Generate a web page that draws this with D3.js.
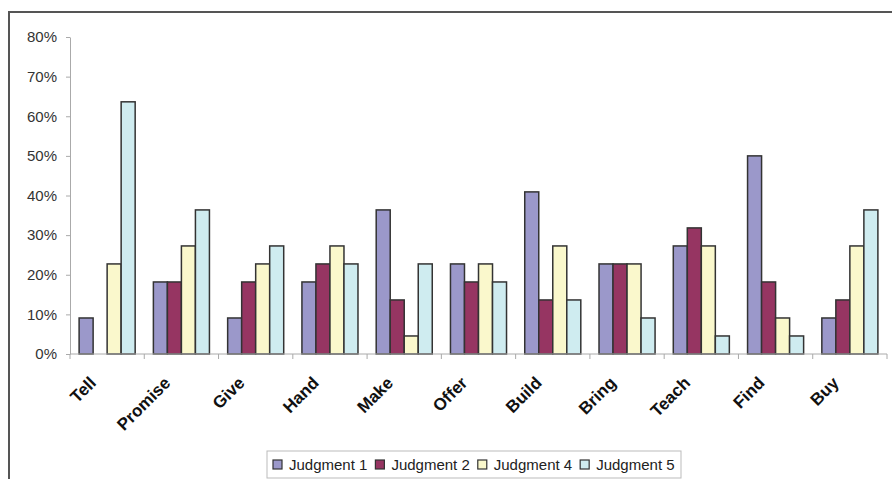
<!DOCTYPE html>
<html>
<head>
<meta charset="utf-8">
<script src="https://cdn.jsdelivr.net/npm/d3@7/dist/d3.min.js"></script>
<style>
  html, body { margin: 0; padding: 0; background: #fff; }
  svg { display: block; font-family: "Liberation Sans", Arial, sans-serif; }
</style>
</head>
<body>
<svg id="chart" width="892" height="479"></svg>
<script>
// Verbs and the share of answers given for each judgment
const categories = ["Tell", "Promise", "Give", "Hand", "Make", "Offer", "Build", "Bring", "Teach", "Find", "Buy"];
const seriesNames = ["Judgment 1", "Judgment 2", "Judgment 4", "Judgment 5"];
const judgment1 = [9.09, 18.18, 9.09, 18.18, 36.36, 22.73, 40.91, 22.73, 27.27, 50.0, 9.09];
const judgment2 = [0, 18.18, 18.18, 22.73, 13.64, 18.18, 13.64, 22.73, 31.82, 18.18, 13.64];
const judgment4 = [22.73, 27.27, 22.73, 27.27, 4.55, 22.73, 27.27, 22.73, 27.27, 9.09, 27.27];
const judgment5 = [63.64, 36.36, 27.27, 22.73, 22.73, 18.18, 13.64, 9.09, 4.55, 4.55, 36.36];
const yTicks = [0, 10, 20, 30, 40, 50, 60, 70, 80];
const colors = ["#9b98ca", "#963562", "#faf8cc", "#cfecf0"];

const seriesValues = [judgment1, judgment2, judgment4, judgment5];

const svg = d3.select("#chart");
const plot = { left: 70, right: 887, top: 37, bottom: 354 };

// outer frame
svg.append("path")
  .attr("d", "M9,479 V12 H900")
  .attr("fill", "none")
  .attr("stroke", "#555")
  .attr("stroke-width", 2);

const x0 = d3.scaleBand().domain(categories).range([plot.left, plot.right]).padding(0);
const x1 = d3.scaleBand().domain(seriesNames).range([0, x0.bandwidth()])
  .paddingInner(0).paddingOuter(0.65);
const y = d3.scaleLinear().domain([0, 80]).range([plot.bottom, plot.top]);

// y axis
const yAxis = svg.append("g")
  .attr("transform", `translate(${plot.left},0)`)
  .call(d3.axisLeft(y).tickValues(yTicks).tickFormat(d => d + "%").tickSize(4).tickSizeOuter(0).tickPadding(9));
yAxis.select(".domain").attr("stroke", "#aaa");
yAxis.selectAll(".tick line").attr("stroke", "#aaa");
yAxis.selectAll(".tick text")
  .attr("fill", "#333")
  .attr("font-size", 15)
  .attr("font-family", "Liberation Sans, Arial, sans-serif");

// bars
const groups = svg.append("g").selectAll("g")
  .data(categories)
  .join("g")
  .attr("transform", d => `translate(${x0(d)},0)`);

groups.selectAll("rect")
  .data((c, i) => seriesNames.map((s, k) => ({ s, k, v: seriesValues[k][i] })).filter(d => d.v > 0))
  .join("rect")
  .attr("x", d => x1(d.s))
  .attr("y", d => y(d.v))
  .attr("width", x1.bandwidth())
  .attr("height", d => y(0) - y(d.v))
  .attr("fill", d => colors[d.k])
  .attr("stroke", "#333")
  .attr("stroke-width", 1.5);

// x axis
const xAxisG = svg.append("g").attr("transform", `translate(0,${plot.bottom})`);
xAxisG.append("line")
  .attr("x1", plot.left).attr("x2", plot.right)
  .attr("stroke", "#aaa");
const boundaries = categories.map(c => x0(c)).concat([plot.right]);
xAxisG.selectAll(".xtick")
  .data(boundaries)
  .join("line")
  .attr("class", "xtick")
  .attr("x1", d => d).attr("x2", d => d)
  .attr("y1", 0).attr("y2", 5)
  .attr("stroke", "#aaa");

// rotated category labels
svg.append("g").selectAll("text")
  .data(categories)
  .join("text")
  .attr("transform", d => `translate(${x0(d) + x0.bandwidth() / 2 - 10},${plot.bottom + 30}) rotate(-45)`)
  .attr("text-anchor", "end")
  .attr("font-size", 17)
  .attr("font-weight", "bold")
  .attr("fill", "#111")
  .text(d => d);

// legend
const legend = svg.append("g");
const legendBox = { x: 267, y: 451, w: 414, h: 27 };
legend.append("rect")
  .attr("x", legendBox.x).attr("y", legendBox.y)
  .attr("width", legendBox.w).attr("height", legendBox.h)
  .attr("fill", "#fff").attr("stroke", "#bbb");

let cx = legendBox.x + 6;
seriesNames.forEach((name, k) => {
  legend.append("rect")
    .attr("x", cx).attr("y", 460)
    .attr("width", 9).attr("height", 9)
    .attr("fill", colors[k]).attr("stroke", "#333").attr("stroke-width", 1.2);
  const t = legend.append("text")
    .attr("x", cx + 16).attr("y", 470)
    .attr("font-size", 15)
    .attr("fill", "#222")
    .text(name);
  cx += 16 + t.node().getComputedTextLength() + 8;
});
</script>
</body>
</html>
